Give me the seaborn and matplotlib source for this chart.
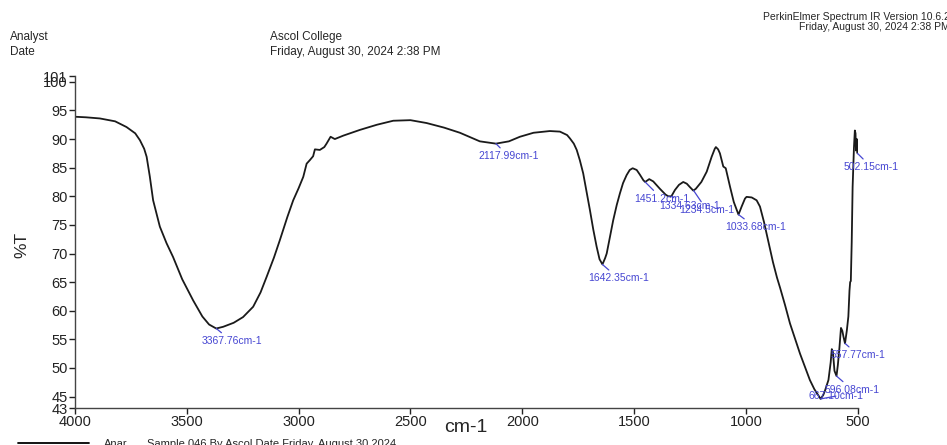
import numpy as np
import pandas as pd
import matplotlib
matplotlib.use("Agg")
import matplotlib.pyplot as plt
import seaborn as sns

# IR spectrum (wavenumber cm-1, %T)
wavenumber = [
    4000, 3950, 3888, 3820, 3769, 3730, 3709, 3690, 3679, 3665, 3650, 3620,
    3590, 3561, 3520, 3471, 3430, 3400, 3368, 3337, 3290, 3248, 3203, 3170,
    3143, 3110, 3084, 3050, 3024, 3000, 2979, 2964, 2950, 2935, 2927, 2905,
    2885, 2875, 2857, 2838, 2800, 2726, 2650, 2577, 2500, 2428, 2350, 2279,
    2190, 2118, 2060, 2011, 1950, 1877, 1832, 1800, 1787, 1770, 1757, 1743,
    1728, 1713, 1698, 1683, 1668, 1655, 1642, 1630, 1623, 1608, 1594, 1578,
    1564, 1550, 1534, 1520, 1507, 1489, 1475, 1459, 1451, 1433, 1415, 1385,
    1360, 1348, 1334, 1318, 1300, 1281, 1265, 1251, 1236, 1225, 1200, 1176,
    1154, 1140, 1135, 1125, 1117, 1102, 1091, 1072, 1055, 1034, 1020, 1005,
    998, 975, 953, 938, 920, 900, 880, 862, 848, 826, 804, 780, 759, 737,
    715, 695, 677, 667, 655, 647, 632, 622, 617, 612, 605, 596, 590, 583,
    576, 570, 565, 558, 550, 543, 538, 535, 532, 528, 524, 518, 514, 511,
    509, 507, 505, 503, 502, 500,
]
transmittance = [
    93.9, 93.8, 93.6, 93.1, 92.1, 91.0, 89.8, 88.3, 86.9, 83.5, 79.3, 74.7,
    71.8, 69.4, 65.5, 61.8, 59.0, 57.6, 56.9, 57.2, 57.9, 58.9, 60.7, 63.2,
    65.9, 69.3, 72.3, 76.4, 79.3, 81.4, 83.4, 85.7, 86.3, 87.0, 88.2, 88.1,
    88.6, 89.2, 90.4, 90.0, 90.6, 91.6, 92.5, 93.2, 93.3, 92.8, 92.0, 91.1,
    89.6, 89.2, 89.6, 90.4, 91.1, 91.4, 91.3, 90.7, 90.1, 89.2, 88.1, 86.3,
    84.0, 80.8, 77.6, 74.2, 71.2, 69.0, 68.1, 69.2, 70.0, 73.0, 75.8, 78.5,
    80.5, 82.3, 83.7, 84.6, 84.9, 84.6, 83.8, 82.8, 82.5, 83.0, 82.6, 81.3,
    80.3, 80.0, 80.0, 81.1, 82.0, 82.5, 82.2, 81.6, 81.0, 81.3, 82.5, 84.3,
    86.9, 88.3, 88.6, 88.2, 87.5, 85.2, 84.9, 81.7, 79.0, 76.8, 78.2, 79.6,
    79.9, 79.8, 79.3, 78.2, 75.5, 72.0, 68.5, 65.8, 64.0, 61.0, 57.8, 55.0,
    52.5, 50.2, 47.9, 46.3, 45.2, 44.6, 45.3, 46.1, 47.9, 51.0, 53.3, 52.8,
    49.5, 48.6, 50.5, 53.5, 57.0, 56.5, 55.5, 54.3, 56.5, 59.0, 63.5, 65.0,
    65.2, 72.0, 81.6, 88.5, 91.5, 91.0, 88.0, 89.5, 90.0, 87.8, 87.5, 87.8,
]

# peak labels: (wavenumber, %T) and text offset in points
peak_wn = [3367.76, 2117.99, 1642.35, 1451.2, 1334.63, 1234.5, 1033.68,
           502.15, 557.77, 596.08, 667.10]
peak_t = [56.9, 89.2, 68.1, 82.5, 80.0, 81.0, 76.8, 87.5, 54.3, 48.6, 44.6]
peak_text = ["3367.76cm-1", "2117.99cm-1", "1642.35cm-1", "1451.2cm-1",
             "1334.63cm-1", "1234.5cm-1", "1033.68cm-1", "502.15cm-1",
             "557.77cm-1", "596.08cm-1", "667.10cm-1"]
peak_offset = [(11, -9), (9, -9), (11.5, -10), (12, -12), (13, -7),
               (9.5, -14), (12, -9), (10, -10), (9.5, -8.5), (11.5, -10),
               (11, 2)]

x_ticks = [4000, 3500, 3000, 2500, 2000, 1500, 1000, 500]
y_ticks = [43, 45, 50, 55, 60, 65, 70, 75, 80, 85, 90, 95, 100, 101]

sns.set_style("ticks")
plt.rcParams['font.family'] = ['Liberation Sans', 'DejaVu Sans']

blue = '#4646d2'
df = pd.DataFrame({"wn": wavenumber, "T": transmittance})

fig = plt.figure(figsize=(9.47, 4.45), dpi=100)
ax = fig.add_axes([0.079, 0.083, 0.827, 0.746])
sns.lineplot(data=df, x="wn", y="T", sort=False, estimator=None,
             color='#1a1a1a', linewidth=1.3, ax=ax)

for w, t, txt, off in zip(peak_wn, peak_t, peak_text, peak_offset):
    ax.annotate(txt, xy=(w, t), xytext=off, textcoords='offset points',
                ha='center', va='center', fontsize=7.5, color=blue,
                arrowprops=dict(arrowstyle='-', color=blue, lw=0.9,
                                shrinkA=0, shrinkB=0))

ax.set_xlim(4000, 500)
ax.set_ylim(43, 101)
ax.set_xticks(x_ticks)
ax.set_yticks(y_ticks)
ax.set_xlabel("")
ax.set_ylabel("")
ax.tick_params(direction='out', length=4, width=1, labelsize=10.5,
               colors='#222222', pad=1)
for side in ['top', 'right']:
    ax.spines[side].set_visible(False)
for side in ['left', 'bottom']:
    ax.spines[side].set_color('#444444')
    ax.spines[side].set_linewidth(1.0)

fig.text(22 / 947, 1 - 245 / 445, "%T", rotation=90, fontsize=12.5,
         ha='center', va='center')
fig.text(466 / 947, 1 - 428 / 445, "cm-1", fontsize=14, ha='center',
         va='center')

# header
fig.text(10 / 947, 1 - 37 / 445, "Analyst", fontsize=8.5, va='center')
fig.text(10 / 947, 1 - 52 / 445, "Date", fontsize=8.5, va='center')
fig.text(270 / 947, 1 - 37 / 445, "Ascol College", fontsize=8.5, va='center')
fig.text(270 / 947, 1 - 52 / 445, "Friday, August 30, 2024 2:38 PM",
         fontsize=8.5, va='center')
fig.text(950 / 947, 1 - 17 / 445, "PerkinElmer Spectrum IR Version 10.6.2",
         fontsize=7.5, ha='right', va='center')
fig.text(950 / 947, 1 - 27 / 445, "Friday, August 30, 2024 2:38 PM",
         fontsize=7.5, ha='right', va='center')

# legend row at the bottom (cut by the page edge)
fig.add_artist(plt.Line2D([18 / 947, 89 / 947], [1 - 443 / 445, 1 - 443 / 445],
                          color='black', lw=1.3))
fig.text(104 / 947, 1 - 439 / 445, "Anar", fontsize=8, va='top')
fig.text(147 / 947, 1 - 439 / 445,
         "Sample 046 By Ascol Date Friday, August 30 2024",
         fontsize=8, va='top')

fig.savefig("out.png", dpi=100)
